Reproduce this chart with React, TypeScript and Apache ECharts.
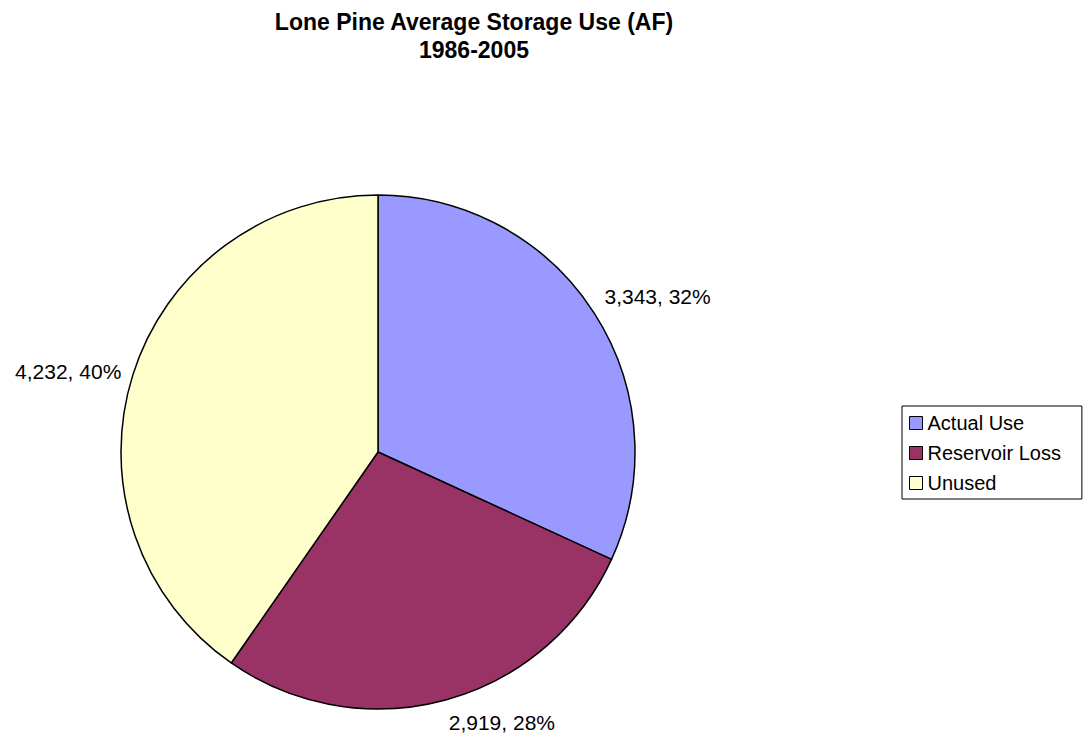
import React, { useEffect, useRef } from "react";
import * as echarts from "echarts";

// Lone Pine storage use, 1986-2005 average (acre-feet)
const categories = ["Actual Use", "Reservoir Loss", "Unused"];
const values = [3343, 2919, 4232];
const colors = ["#9999FF", "#993366", "#FFFFCC"];

const titleLines = ["Lone Pine Average Storage Use (AF)", "1986-2005"];

const FONT = "'Liberation Sans', Arial, Helvetica, sans-serif";
const PIE_CENTER: [number, number] = [378, 452];
const PIE_RADIUS = 257;
const LABEL_GAP = 12;

const total = values.reduce((a, b) => a + b, 0);

// mid-angle of each slice, measured clockwise from 12 o'clock
const midAngles = values.map((v, i) => {
  const before = values.slice(0, i).reduce((a, b) => a + b, 0);
  return ((before + v / 2) / total) * Math.PI * 2;
});

export default function App() {
  const ref = useRef<HTMLDivElement>(null);

  useEffect(() => {
    if (!ref.current) return;
    const chart = echarts.init(ref.current, undefined, { renderer: "svg" });

    chart.setOption({
      animation: false,
      backgroundColor: "#ffffff",
      title: {
        text: titleLines.join("\n"),
        left: 474,
        top: 8,
        textAlign: "center",
        padding: 0,
        textStyle: {
          fontFamily: FONT,
          fontSize: 23,
          fontWeight: "bold",
          color: "#000000",
          lineHeight: 28,
        },
      },
      legend: {
        orient: "vertical",
        left: 902,
        top: 406,
        padding: [7, 21, 6, 7],
        itemGap: 10,
        itemWidth: 13,
        itemHeight: 13,
        icon: "rect",
        borderColor: "#000000",
        borderWidth: 1,
        selectedMode: false,
        data: categories,
        itemStyle: { borderColor: "#000000", borderWidth: 1 },
        textStyle: {
          fontFamily: FONT,
          fontSize: 20,
          color: "#000000",
          lineHeight: 20,
          padding: [0, 0, 0, 0],
        },
      },
      series: [
        {
          type: "pie",
          center: PIE_CENTER,
          radius: PIE_RADIUS,
          startAngle: 90,
          clockwise: true,
          avoidLabelOverlap: false,
          emphasis: { disabled: true },
          itemStyle: { borderColor: "#000000", borderWidth: 1.5 },
          labelLine: { show: false },
          label: {
            show: true,
            position: "outside",
            fontFamily: FONT,
            fontSize: 21,
            color: "#000000",
            formatter: (p: any) =>
              `${Number(p.value).toLocaleString("en-US")}, ${Math.round(p.percent)}%`,
          },
          labelLayout: (params: any) => {
            const a = midAngles[params.dataIndex];
            const s = Math.sin(a);
            const c = Math.cos(a);
            const px = PIE_CENTER[0] + PIE_RADIUS * s;
            const py = PIE_CENTER[1] - PIE_RADIUS * c;
            return {
              x: px + LABEL_GAP * s,
              y: py - LABEL_GAP * c,
              align: s >= 0 ? "left" : "right",
              verticalAlign: c > 0.4 ? "bottom" : c < -0.4 ? "top" : "middle",
            };
          },
          data: categories.map((name, i) => ({
            name,
            value: values[i],
            itemStyle: { color: colors[i] },
          })),
        },
      ],
    });

    return () => chart.dispose();
  }, []);

  return (
    <div
      ref={ref}
      style={{ position: "absolute", left: 0, top: 0, width: 1084, height: 740 }}
    />
  );
}
